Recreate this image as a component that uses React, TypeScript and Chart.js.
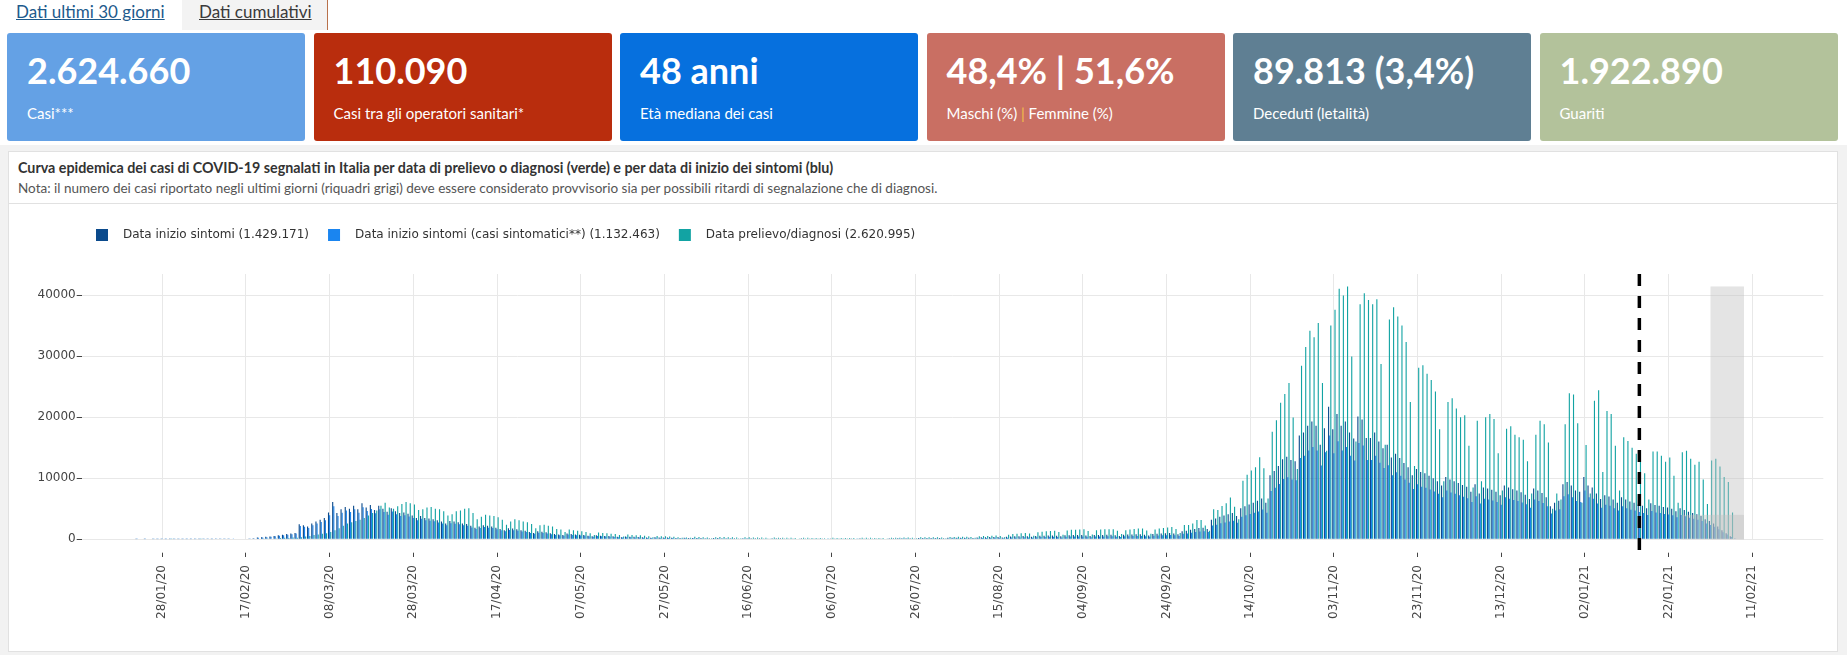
import React, { useEffect, useRef } from 'react';
import { Chart, registerables } from 'chart.js';

Chart.register(...registerables);

// ---------- data ----------
const firstDay = '2020-01-20'; // first bar (Monday); one value per day, rows are weeks Mon..Sun

const onsetAll = [
  0, 0, 2, 0, 3, 0, 5,
  4, 3, 8, 10, 6, 8, 12,
  15, 20, 25, 22, 30, 35, 28,
  40, 45, 55, 60, 70, 80, 90,
  100, 130, 160, 300, 350, 400, 450,
  550, 650, 750, 850, 950, 1050, 2450,
  2300, 2100, 2600, 2900, 3200, 3500, 4400,
  6100, 4300, 4900, 5300, 5000, 5500, 4900,
  5900, 5200, 5600, 4800, 5500, 5000, 4500,
  5100, 4600, 4300, 4400, 4200, 3900, 3500,
  3800, 3500, 3400, 3300, 3100, 2900, 2600,
  3000, 2900, 2800, 2600, 2500, 2200, 1900,
  2100, 2300, 2200, 2100, 1900, 1700, 1500,
  1800, 1750, 1650, 1500, 1400, 1200, 1050,
  1300, 1250, 1150, 1000, 850, 800, 700,
  950, 850, 800, 750, 700, 600, 500,
  650, 600, 550, 520, 480, 420, 350,
  450, 420, 400, 380, 350, 300, 260,
  330, 310, 300, 280, 260, 230, 200,
  240, 200, 230, 220, 210, 190, 160,
  210, 200, 190, 180, 180, 160, 130,
  190, 180, 170, 170, 160, 140, 120,
  170, 160, 160, 150, 150, 130, 110,
  160, 150, 150, 140, 140, 120, 100,
  150, 150, 140, 140, 140, 120, 100,
  160, 150, 150, 150, 150, 130, 110,
  170, 170, 180, 180, 180, 160, 130,
  200, 210, 210, 220, 220, 200, 160,
  240, 250, 250, 260, 260, 240, 200,
  300, 320, 340, 360, 380, 360, 300,
  420, 450, 480, 500, 520, 480, 400,
  550, 580, 600, 620, 630, 580, 480,
  650, 680, 700, 700, 700, 640, 520,
  700, 720, 720, 730, 730, 660, 550,
  760, 780, 800, 820, 840, 760, 640,
  880, 920, 960, 1000, 1040, 960, 820,
  1300, 1400, 1550, 1700, 1850, 1900, 1700,
  3200, 3400, 3700, 3900, 4100, 4300, 3800,
  5100, 5400, 5700, 6000, 6300, 6700, 6000,
  10500, 11200, 12000, 13100, 13500, 13000, 12800,
  17000, 17500, 18600, 19300, 18600, 15500, 18200,
  21700, 18000, 20500, 18600, 19300, 17500, 16500,
  20100, 19600, 16600, 16600, 17500, 16000, 14900,
  15500, 13400, 14000, 13300, 12500, 11800, 10500,
  11500, 11000, 10800, 10400, 10000, 9500, 8800,
  10200, 9800, 9500, 9200, 8900, 8600, 7800,
  9000, 7500, 8500, 8300, 8100, 7800, 7200,
  8800, 8500, 8200, 8000, 7700, 7300, 6600,
  8300, 8000, 7600, 6900, 5400, 6000, 6300,
  9000, 9400, 8800, 8000, 7800, 10200, 8800,
  8500, 7500, 6600, 7200, 7000, 6500, 6000,
  6900, 6500, 6200, 6000, 5700, 5500, 5100,
  5900, 5600, 5500, 5300, 5200, 5000, 4600,
  5100, 4800, 4500, 4300, 4100, 3800, 3300,
  3000, 2600, 2100, 1500, 1000, 500, 150,
];

const onsetSymptomatic = [
  0, 0, 2, 0, 3, 0, 4,
  4, 3, 7, 9, 5, 7, 11,
  13, 18, 22, 20, 27, 31, 25,
  36, 40, 49, 54, 62, 71, 80,
  90, 116, 142, 268, 312, 356, 400,
  490, 578, 668, 757, 846, 935, 2180,
  2050, 1870, 2310, 2580, 2850, 3120, 3920,
  5430, 3830, 4360, 4720, 4450, 4900, 4360,
  5250, 4630, 4980, 4270, 4900, 4450, 4000,
  4540, 4090, 3830, 3920, 3740, 3470, 3120,
  3380, 3120, 3030, 2940, 2760, 2580, 2310,
  2640, 2550, 2460, 2290, 2200, 1940, 1670,
  1830, 2000, 1910, 1830, 1650, 1480, 1310,
  1530, 1490, 1400, 1280, 1190, 1020, 890,
  1090, 1050, 970, 840, 710, 670, 590,
  780, 700, 660, 620, 570, 490, 410,
  520, 480, 440, 420, 380, 340, 280,
  350, 330, 310, 300, 270, 230, 200,
  250, 230, 230, 210, 200, 170, 150,
  170, 140, 160, 160, 150, 130, 110,
  140, 140, 130, 120, 120, 110, 90,
  120, 120, 110, 110, 100, 90, 80,
  110, 100, 100, 100, 100, 80, 70,
  100, 100, 100, 90, 90, 80, 60,
  100, 100, 90, 90, 90, 80, 60,
  100, 100, 100, 100, 100, 80, 70,
  110, 110, 120, 120, 120, 100, 80,
  130, 140, 140, 140, 140, 130, 100,
  150, 160, 160, 170, 170, 150, 130,
  190, 200, 220, 230, 240, 230, 190,
  260, 280, 300, 310, 330, 300, 250,
  350, 370, 380, 400, 400, 370, 310,
  420, 440, 450, 450, 460, 420, 340,
  460, 470, 470, 480, 480, 430, 360,
  500, 510, 530, 540, 560, 500, 420,
  590, 620, 650, 680, 700, 650, 550,
  900, 970, 1070, 1180, 1280, 1320, 1180,
  2260, 2400, 2610, 2760, 2900, 3040, 2690,
  3700, 3920, 4130, 4350, 4570, 4860, 4350,
  7900, 8450, 9050, 9880, 10180, 9800, 9650,
  13300, 13700, 14550, 15100, 14550, 12100, 14250,
  17000, 14100, 16050, 14560, 15110, 13700, 12900,
  15750, 15350, 13000, 13000, 13700, 12530, 11660,
  12140, 10490, 10960, 10410, 9790, 9240, 8220,
  9000, 8610, 8460, 8140, 7830, 7440, 6890,
  7990, 7670, 7440, 7200, 6970, 6730, 6110,
  7050, 5870, 6660, 6500, 6340, 6110, 5640,
  6890, 6660, 6420, 6260, 6030, 5720, 5170,
  6500, 6260, 5950, 5400, 4230, 4700, 4930,
  7050, 7360, 6890, 6260, 6110, 7990, 6890,
  6660, 5870, 5170, 5640, 5480, 5090, 4700,
  5400, 5090, 4850, 4700, 4460, 4310, 3990,
  4620, 4380, 4310, 4150, 4070, 3920, 3600,
  3990, 3760, 3520, 3370, 3210, 2980, 2580,
  2350, 2040, 1640, 1170, 780, 390, 120,
];

const diagnosis = [
  0, 0, 0, 0, 0, 0, 0,
  0, 0, 0, 2, 0, 0, 0,
  0, 0, 0, 1, 0, 0, 0,
  0, 0, 0, 0, 0, 0, 0,
  0, 0, 0, 0, 18, 60, 80,
  150, 200, 250, 220, 280, 260, 320,
  450, 550, 700, 800, 900, 1000, 1200,
  1500, 1800, 2200, 2600, 2800, 3000, 3200,
  3500, 3900, 4300, 4700, 5500, 6000, 5200,
  5000, 5400, 5800, 6100, 5900, 5700, 4800,
  4900, 5200, 5300, 5000, 4900, 4600, 3900,
  4100, 4600, 4700, 5000, 5100, 4300, 3300,
  3700, 4000, 3900, 3800, 3600, 3200, 2400,
  2900, 3300, 3100, 2900, 2800, 2500, 1800,
  2300, 2400, 2200, 2100, 1700, 1600, 1200,
  1600, 1500, 1400, 1300, 1200, 1000, 700,
  1100, 1050, 1000, 900, 850, 700, 450,
  800, 700, 680, 650, 600, 500, 350,
  550, 500, 480, 450, 400, 350, 250,
  300, 250, 400, 380, 350, 300, 180,
  350, 380, 360, 340, 330, 280, 170,
  330, 320, 300, 290, 280, 240, 150,
  280, 270, 260, 250, 240, 200, 130,
  250, 240, 230, 230, 220, 190, 120,
  240, 230, 230, 220, 230, 200, 130,
  250, 240, 240, 230, 230, 200, 130,
  260, 260, 270, 280, 290, 250, 170,
  320, 330, 340, 340, 350, 300, 190,
  360, 380, 400, 410, 420, 370, 240,
  480, 520, 560, 600, 620, 520, 330,
  750, 850, 900, 980, 1050, 950, 600,
  1150, 1250, 1300, 1350, 1400, 1200, 750,
  1450, 1550, 1550, 1600, 1650, 1350, 800,
  1500, 1600, 1650, 1650, 1650, 1400, 850,
  1500, 1600, 1700, 1750, 1750, 1450, 900,
  1600, 1750, 1850, 1950, 2000, 1700, 1050,
  2350, 2350, 2600, 3170, 3170, 2240, 1400,
  4900, 4800, 5460, 5900, 6830, 5350, 3300,
  9600, 10550, 11260, 11800, 13440, 11640, 6700,
  17600, 19500, 22350, 23800, 25600, 19950, 11500,
  28400, 31500, 34150, 33100, 35400, 25600, 14500,
  35000, 37600, 41040, 39900, 41400, 29950, 16000,
  38500, 40300, 39200, 38500, 39300, 28700, 15500,
  36000, 38000, 36500, 35000, 32300, 22500, 12000,
  28100, 28500, 27100, 26100, 24200, 18000, 9500,
  22500, 23100, 21400, 20000, 20300, 15300, 8500,
  19400, 9500, 20000, 20500, 19700, 14100, 8000,
  18100, 18500, 17100, 16700, 16300, 12800, 7500,
  17100, 19400, 18850, 15850, 5000, 7500, 6500,
  18850, 23900, 23700, 19000, 6000, 15460, 7500,
  22700, 24400, 11000, 21000, 20500, 15300, 8000,
  16700, 16100, 15000, 14000, 12700, 10800, 6500,
  14370, 14370, 13700, 12700, 13400, 10400, 6000,
  14260, 14480, 13200, 12200, 12700, 9800, 5800,
  12900, 13200, 11900, 10200, 9400, 4400, 0,
];

const seriesLabels = [
  'Data inizio sintomi (1.429.171)',
  'Data inizio sintomi (casi sintomatici**) (1.132.463)',
  'Data prelievo/diagnosi (2.620.995)',
];
const seriesColors = ['#0b4a8c', '#1a85f0', '#12a3a3'];

const xTickLabels = [
  '28/01/20', '17/02/20', '08/03/20', '28/03/20', '17/04/20', '07/05/20', '27/05/20',
  '16/06/20', '06/07/20', '26/07/20', '15/08/20', '04/09/20', '24/09/20', '14/10/20',
  '03/11/20', '23/11/20', '13/12/20', '02/01/21', '22/01/21', '11/02/21',
];
const yTickValues = [0, 10000, 20000, 30000, 40000];
const yMax = 43440;
const xFrom = '2020-01-08T18:00';
const xTo = '2021-02-27T23:00';
const cutoffDate = '2021-01-15';
const provisionalBoxes = [
  { from: '2021-02-01', to: '2021-02-09', top: 41400 },
  { from: '2021-01-25', to: '2021-02-09', top: 4000 },
];

const cardValues = ['2.624.660', '110.090', '48 anni', '48,4% | 51,6%', '89.813 (3,4%)', '1.922.890'];
const cardLabels = ['Casi***', 'Casi tra gli operatori sanitari*', 'Età mediana dei casi', 'Maschi (%) | Femmine (%)', 'Deceduti (letalità)', 'Guariti'];
const cardColors = ['#64a1e5', '#b92d0d', '#0670de', '#c96f63', '#5f7f93', '#b3c29b'];

const chartTitle = 'Curva epidemica dei casi di COVID-19 segnalati in Italia per data di prelievo o diagnosi (verde) e per data di inizio dei sintomi (blu)';
const chartNote = 'Nota: il numero dei casi riportato negli ultimi giorni (riquadri grigi) deve essere considerato provvisorio sia per possibili ritardi di segnalazione che di diagnosi.';

// ---------- helpers ----------
const dayNum = (s: string) => Date.parse(s.length === 10 ? s + 'T00:00:00Z' : s + ':00Z') / 864e5;
const tickDay = (lbl: string) => {
  const [d, m, y] = lbl.split('/').map(Number);
  return Date.UTC(2000 + y, m - 1, d) / 864e5;
};

const TICK_FONT = { family: 'DejaVu Sans', size: 12 };

function CovidChart() {
  const ref = useRef<HTMLCanvasElement | null>(null);
  useEffect(() => {
    if (!ref.current) return;
    const start = dayNum(firstDay);
    const labels = onsetAll.map((_, i) => start + i);

    const overlay = {
      id: 'overlay',
      afterDatasetsDraw(chart: any) {
        const { ctx, chartArea: a, scales } = chart;
        const x = scales.x, y = scales.y;
        ctx.save();
        const y0 = y.getPixelForValue(0);
        provisionalBoxes.forEach((b) => {
          const x0 = x.getPixelForValue(dayNum(b.from));
          const x1 = x.getPixelForValue(dayNum(b.to));
          const yt = y.getPixelForValue(b.top);
          ctx.fillStyle = 'rgba(190,190,190,0.42)';
          ctx.fillRect(x0, yt, x1 - x0, y0 - yt);
        });
        const xc = x.getPixelForValue(dayNum(cutoffDate));
        ctx.strokeStyle = '#000';
        ctx.lineWidth = 3.5;
        ctx.setLineDash([12, 10]);
        ctx.beginPath();
        ctx.moveTo(xc, a.top);
        ctx.lineTo(xc, a.bottom + 13);
        ctx.stroke();
        ctx.restore();
      },
      afterDraw(chart: any) {
        const { ctx } = chart;
        ctx.save();
        ctx.font = '12px "DejaVu Sans"';
        ctx.textBaseline = 'middle';
        let cx = 87;
        const cy = 31;
        chart.data.datasets.forEach((ds: any) => {
          ctx.fillStyle = ds.backgroundColor;
          ctx.fillRect(cx, cy - 6, 12, 12);
          ctx.fillStyle = '#333';
          ctx.fillText(ds.label, cx + 27, cy);
          cx += 27 + ctx.measureText(ds.label).width + 19;
        });
        ctx.restore();
      },
    };

    const chart = new Chart(ref.current, {
      type: 'bar',
      data: {
        labels,
        datasets: [
          { label: seriesLabels[0], data: onsetAll, backgroundColor: seriesColors[0], borderWidth: 0 },
          { label: seriesLabels[1], data: onsetSymptomatic, backgroundColor: seriesColors[1], borderWidth: 0 },
          { label: seriesLabels[2], data: diagnosis, backgroundColor: seriesColors[2], borderWidth: 0 },
        ],
      },
      options: {
        animation: false,
        responsive: false,
        events: [],
        layout: { padding: { top: 70, right: 13.7, left: 0, bottom: 0 } },
        plugins: { legend: { display: false }, tooltip: { enabled: false }, title: { display: false } },
        datasets: { bar: { categoryPercentage: 0.8, barPercentage: 1 } } as any,
        scales: {
          x: {
            type: 'linear',
            min: dayNum(xFrom),
            max: dayNum(xTo),
            offset: false,
            afterBuildTicks: (s: any) => {
              s.ticks = xTickLabels.map((l) => ({ value: tickDay(l) }));
            },
            afterFit: (s: any) => {
              s.height = 111.7;
            },
            ticks: {
              autoSkip: false,
              minRotation: 90,
              maxRotation: 90,
              padding: 7.7,
              color: '#444',
              font: TICK_FONT,
              callback: (_v: any, i: number) => xTickLabels[i],
            },
            grid: {
              offset: false,
              color: '#e8e8e8',
              drawTicks: true,
              tickLength: 18,
              tickColor: '#444',
              tickBorderDash: [0, 13.7, 4.3, 100],
            },
            border: { display: false },
          } as any,
          y: {
            min: 0,
            max: yMax,
            afterBuildTicks: (s: any) => {
              s.ticks = yTickValues.map((v) => ({ value: v }));
            },
            afterFit: (s: any) => {
              s.width = 72.7;
            },
            ticks: {
              padding: 1,
              color: '#444',
              font: TICK_FONT,
              callback: (v: any) => String(v),
            },
            grid: { color: '#e8e8e8', drawTicks: true, tickLength: 5, tickColor: '#444' },
            border: { display: false },
          } as any,
        },
      },
      plugins: [overlay],
    });
    return () => chart.destroy();
  }, []);
  return <canvas ref={ref} width={1828} height={447} style={{ position: 'absolute', left: 9, top: 204, width: 1828, height: 447 }} />;
}

export default function App() {
  return (
    <div style={{ position: 'absolute', left: 0, top: 0, width: 1847, height: 655, background: '#f2f2f2', overflow: 'hidden', fontFamily: 'Lato, "Open Sans", sans-serif' }}>
      <div style={{ position: 'absolute', left: 0, top: 0, width: 1847, height: 145, background: '#fff' }} />
      {/* tabs */}
      <div style={{ position: 'absolute', left: 16, top: 0, height: 30, lineHeight: '24px', fontSize: 17, color: '#1d5a8c', textDecoration: 'underline' }}>Dati ultimi 30 giorni</div>
      <div style={{ position: 'absolute', left: 182, top: 0, width: 145, height: 30, background: '#f3f3f3', borderRight: '1px solid #b8714b' }} />
      <div style={{ position: 'absolute', left: 199, top: 0, height: 30, lineHeight: '24px', fontSize: 17, color: '#3a3a3a', textDecoration: 'underline' }}>Dati cumulativi</div>
      {/* cards */}
      {cardValues.map((v, i) => (
        <div key={i} style={{ position: 'absolute', left: 7 + i * 306.5, top: 33, width: 298, height: 108, background: cardColors[i], borderRadius: 3, color: '#fff' }}>
          <div style={{ position: 'absolute', left: 20, top: 15, fontSize: 36, fontWeight: 700, lineHeight: '44px', whiteSpace: 'nowrap' }}>{v}</div>
          <div style={{ position: 'absolute', left: 20, top: 70, fontSize: 15, lineHeight: '20px', whiteSpace: 'nowrap' }}>
            {cardLabels[i].includes('|') ? (
              <>
                {cardLabels[i].split('|')[0]}
                <span style={{ color: '#f3c04a' }}>|</span>
                {cardLabels[i].split('|')[1]}
              </>
            ) : (
              cardLabels[i]
            )}
          </div>
        </div>
      ))}
      {/* chart container */}
      <div style={{ position: 'absolute', left: 8, top: 151, width: 1828, height: 499, background: '#fff', border: '1px solid #e1e1e1' }}>
        <div style={{ position: 'absolute', left: 0, top: 0, width: 1828, height: 51, borderBottom: '1px solid #e1e1e1' }}>
          <div style={{ position: 'absolute', left: 9, top: 6, fontSize: 14.3, fontWeight: 700, color: '#333', lineHeight: '19px', whiteSpace: 'nowrap' }}>{chartTitle}</div>
          <div style={{ position: 'absolute', left: 9, top: 27, fontSize: 13.5, color: '#555', lineHeight: '18px', whiteSpace: 'nowrap' }}>{chartNote}</div>
        </div>
      </div>
      <CovidChart />
    </div>
  );
}
